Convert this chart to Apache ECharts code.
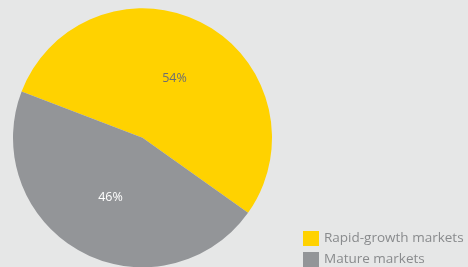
<!DOCTYPE html>
<html>
<head>
<meta charset="utf-8">
<script src="https://cdn.jsdelivr.net/npm/echarts@6/dist/echarts.min.js"></script>
<style>
  html, body { margin: 0; padding: 0; background: #e6e7e7; }
  #chart { width: 468px; height: 267px; }
</style>
</head>
<body>
<div id="chart"></div>
<script>
var marketNames = ["Rapid-growth markets", "Mature markets"];
var marketShares = [54, 46];
var sliceColors = ["#ffd200", "#939598"];
var labelColors = ["#6d6e71", "#ffffff"];

var pieData = marketNames.map(function (name, i) {
  return {
    name: name,
    value: marketShares[i],
    itemStyle: { color: sliceColors[i] },
    label: { color: labelColors[i] }
  };
});

var myChart = echarts.init(document.getElementById("chart"));
var option = {
  backgroundColor: "#e6e7e7",
  animation: false,
  legend: {
    orient: "vertical",
    left: 303,
    top: 231,
    itemWidth: 16,
    itemHeight: 15,
    itemGap: 6,
    icon: "rect",
    padding: 0,
    textStyle: {
      color: "#898b8d",
      fontSize: 13.5,
      fontFamily: "Open Sans"
    },
    data: marketNames
  },
  series: [
    {
      type: "pie",
      center: [142.5, 137.8],
      radius: 129.5,
      startAngle: 159,
      clockwise: true,
      silent: true,
      label: {
        position: "inside",
        formatter: "{c}%",
        fontSize: 12.5,
        fontFamily: "Open Sans"
      },
      labelLine: { show: false },
      data: pieData
    }
  ]
};
myChart.setOption(option);
</script>
</body>
</html>
